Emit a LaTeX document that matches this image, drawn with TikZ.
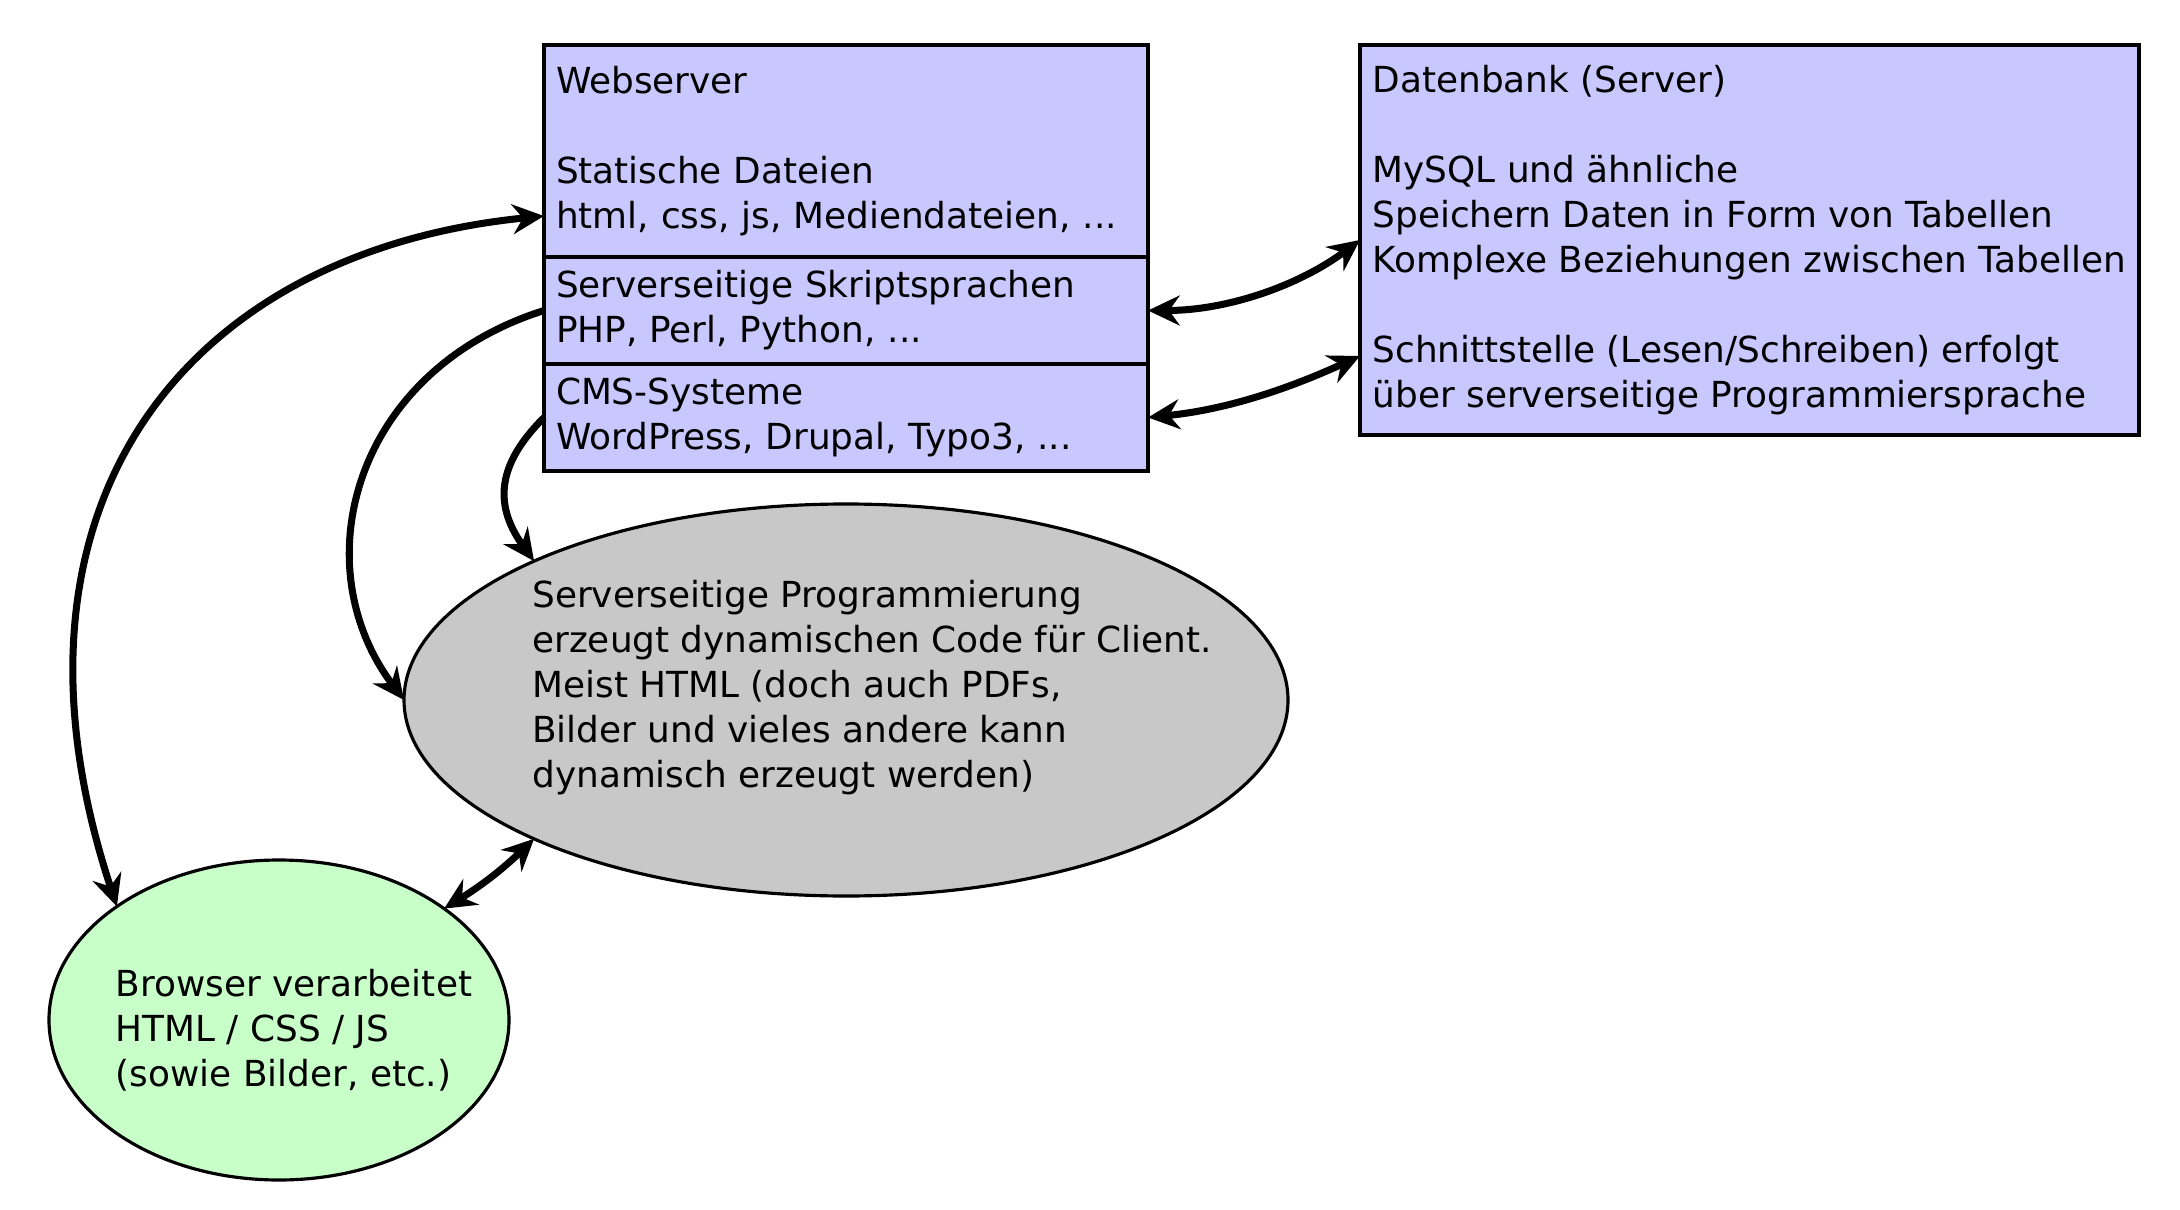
\documentclass[tikz,border=0pt]{standalone}
\usepackage{fontspec}
\setmainfont{DejaVu Sans}
\usepackage{tikz}
\usetikzlibrary{arrows.meta, positioning, shapes.geometric}

\definecolor{serverblue}{RGB}{200,200,255}
\definecolor{proggray}{RGB}{200,200,200}
\definecolor{clientgreen}{RGB}{200,255,200}

\begin{document}
\begin{tikzpicture}
            % Styles
            \tikzstyle{txt} = [font=\fontsize{10.2pt}{12.8pt}\selectfont, align=left]
            \tikzstyle{wsblock} = [rectangle, draw, txt, fill=serverblue, line width=0.9pt, outer sep=0pt, text width=5.80cm, inner xsep=0.12cm, inner ysep=0pt]
            \tikzstyle{dbblock} = [rectangle, draw, txt, fill=serverblue, line width=0.9pt, outer sep=0pt, minimum width=7.79cm, minimum height=3.90cm]
            \tikzstyle{bubble} = [ellipse, draw, line width=0.9pt, inner sep=0pt, outer sep=0pt]
            \tikzstyle{link} = [line width=2pt, -{Stealth[length=9pt, width=8.5pt, inset=3pt]}]
            \tikzstyle{dlink} = [line width=2pt, {Stealth[length=9pt, width=8.5pt, inset=3pt]}-{Stealth[length=9pt, width=8.5pt, inset=3pt]}]

            \useasboundingbox (0,0) rectangle (21.8,-12.1);

            % Webserver (three stacked parts)
            \node[wsblock, minimum height=2.12cm, anchor=north west] (ws_static) at (5.44,-0.45) {Webserver\\ \strut\\Statische Dateien\\html, css, js, Mediendateien, ...};
            \node[wsblock, minimum height=1.07cm, below=0pt of ws_static] (ws_script) {Serverseitige Skriptsprachen\\PHP, Perl, Python, ...};
            \node[wsblock, minimum height=1.07cm, below=0pt of ws_script] (ws_cms) {CMS-Systeme\\WordPress, Drupal, Typo3, ...};

            % Database
            \node[dbblock, anchor=north west] (db) at (13.60,-0.45) {Datenbank (Server)\\ \strut\\MySQL und ähnliche\\Speichern Daten in Form von Tabellen\\Komplexe Beziehungen zwischen Tabellen\\ \strut\\Schnittstelle (Lesen/Schreiben) erfolgt\\über serverseitige Programmiersprache};

            % Server-side programming
            \node[bubble, fill=proggray, minimum width=8.84cm, minimum height=3.92cm] (prog) at (8.46,-7.00) {};
            \node[txt] (prog_text) at (8.72,-6.88) {Serverseitige Programmierung\\erzeugt dynamischen Code für Client.\\Meist HTML (doch auch PDFs,\\Bilder und vieles andere kann\\dynamisch erzeugt werden)};

            % Browser
            \node[bubble, fill=clientgreen, minimum width=4.60cm, minimum height=3.20cm] (browser) at (2.79,-10.20) {};
            \node[txt] (browser_text) at (2.94,-10.30) {Browser verarbeitet\\HTML / CSS / JS\\(sowie Bilder, etc.)};

            % Connections
            \draw[dlink] ([yshift=-0.65cm]ws_static.west) .. controls +(-3.6,-0.36) and +(-1.32,4.0) .. (browser.145);
            \draw[link] (ws_script.west) .. controls +(-1.9,-0.6) and +(-1.02,1.36) .. (prog.west);
            \draw[link] (ws_cms.west) .. controls +(-0.42,-0.42) and +(-0.44,0.61) .. (prog.156);
            \draw[dlink] (prog.204) to[bend left=6] (browser.34);

            % Database links
            \draw[dlink] (ws_script.east) .. controls +(0.8,0) and +(-0.6,-0.45) .. (db.west);
            \draw[dlink] (ws_cms.east) .. controls +(0.8,0.08) and +(-0.7,-0.32) .. ([yshift=-1.16cm]db.west);
\end{tikzpicture}
\end{document}
